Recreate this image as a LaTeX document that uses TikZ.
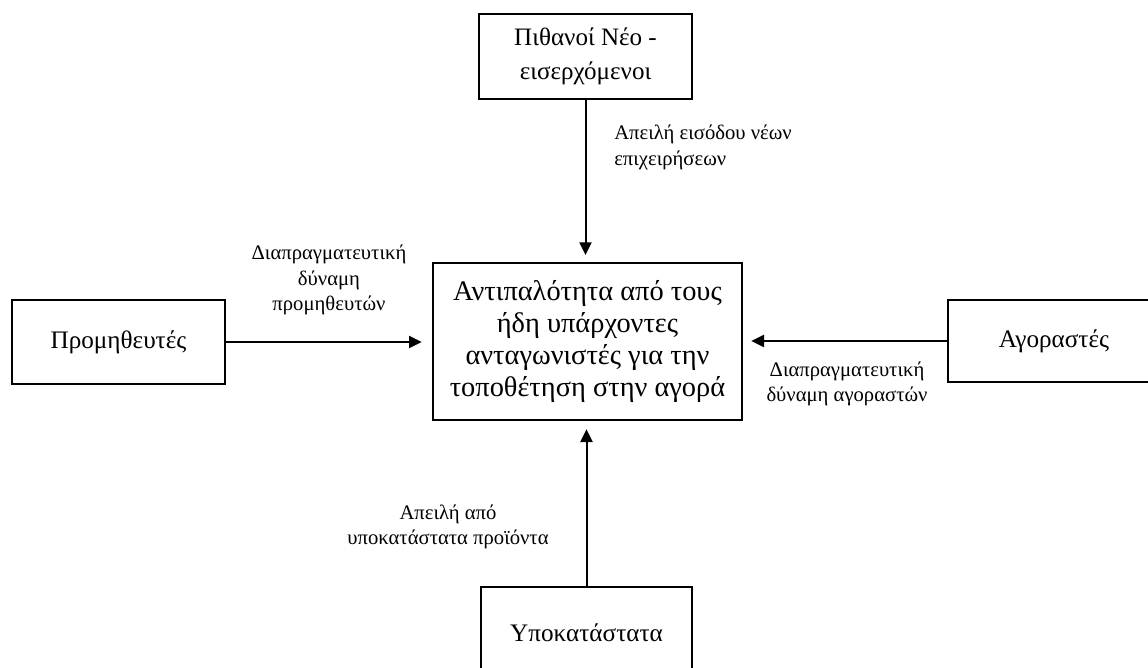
\documentclass[tikz,border=0pt]{standalone}
\usepackage{fontspec}
\setmainfont{Liberation Serif}
\usetikzlibrary{arrows.meta}
\tikzset{
  boxnode/.style={draw=black, line width=2pt, align=center, inner sep=0pt},
  lbl/.style={font=\fontsize{15.5}{19}\selectfont, align=center, inner sep=0pt},
  arr/.style={line width=1.5pt, -{Triangle[length=9.5pt,width=9pt]}}
}
\begin{document}
\begin{tikzpicture}[x=0.75pt,y=-0.75pt]
\useasboundingbox (0,0) rectangle (1148,667);
\node[boxnode, minimum width=213*0.75pt, minimum height=85*0.75pt, font=\fontsize{18.8}{25}\selectfont] (top) at (585.5,56.5) {Πιθανοί Νέο -\\εισερχόμενοι};
\node[boxnode, minimum width=309*0.75pt, minimum height=157*0.75pt, font=\fontsize{21.3}{24}\selectfont] (ctr) at (587.5,341.5) {Αντιπαλότητα από τους\\ήδη υπάρχοντες\\ανταγωνιστές για την\\τοποθέτηση στην αγορά};
\node[boxnode, minimum width=213*0.75pt, minimum height=84*0.75pt, font=\fontsize{18.9}{25}\selectfont] (sup) at (118.5,342) {Προμηθευτές};
\node[boxnode, minimum width=212*0.75pt, minimum height=82*0.75pt, font=\fontsize{18.9}{25}\selectfont] (buy) at (1054,341) {Αγοραστές};
\node[boxnode, minimum width=211*0.75pt, minimum height=91*0.75pt, font=\fontsize{18.9}{25}\selectfont] (sub) at (586.5,632.5) {Υποκατάστατα};
\draw[arr, shorten >=5pt] (top.south) -- (top.south |- ctr.north);
\draw[arr, shorten >=7.5pt] (sup.east) -- (sup.east -| ctr.west);
\draw[arr, shorten >=6pt] (buy.west) -- (buy.west -| ctr.east);
\draw[arr, shorten >=6pt] (sub.north) -- (sub.north |- ctr.south);
\node[lbl, align=left, anchor=north west] (ltop) at (614,125) {Απειλή εισόδου νέων\\επιχειρήσεων};
\node[lbl] (lsup) at (329,280) {Διαπραγματευτική\\δύναμη\\προμηθευτών};
\node[lbl] (lbuy) at (847,384) {Διαπραγματευτική\\δύναμη αγοραστών};
\node[lbl] (lsub) at (448,527) {Απειλή από\\υποκατάστατα προϊόντα};
\end{tikzpicture}
\end{document}
